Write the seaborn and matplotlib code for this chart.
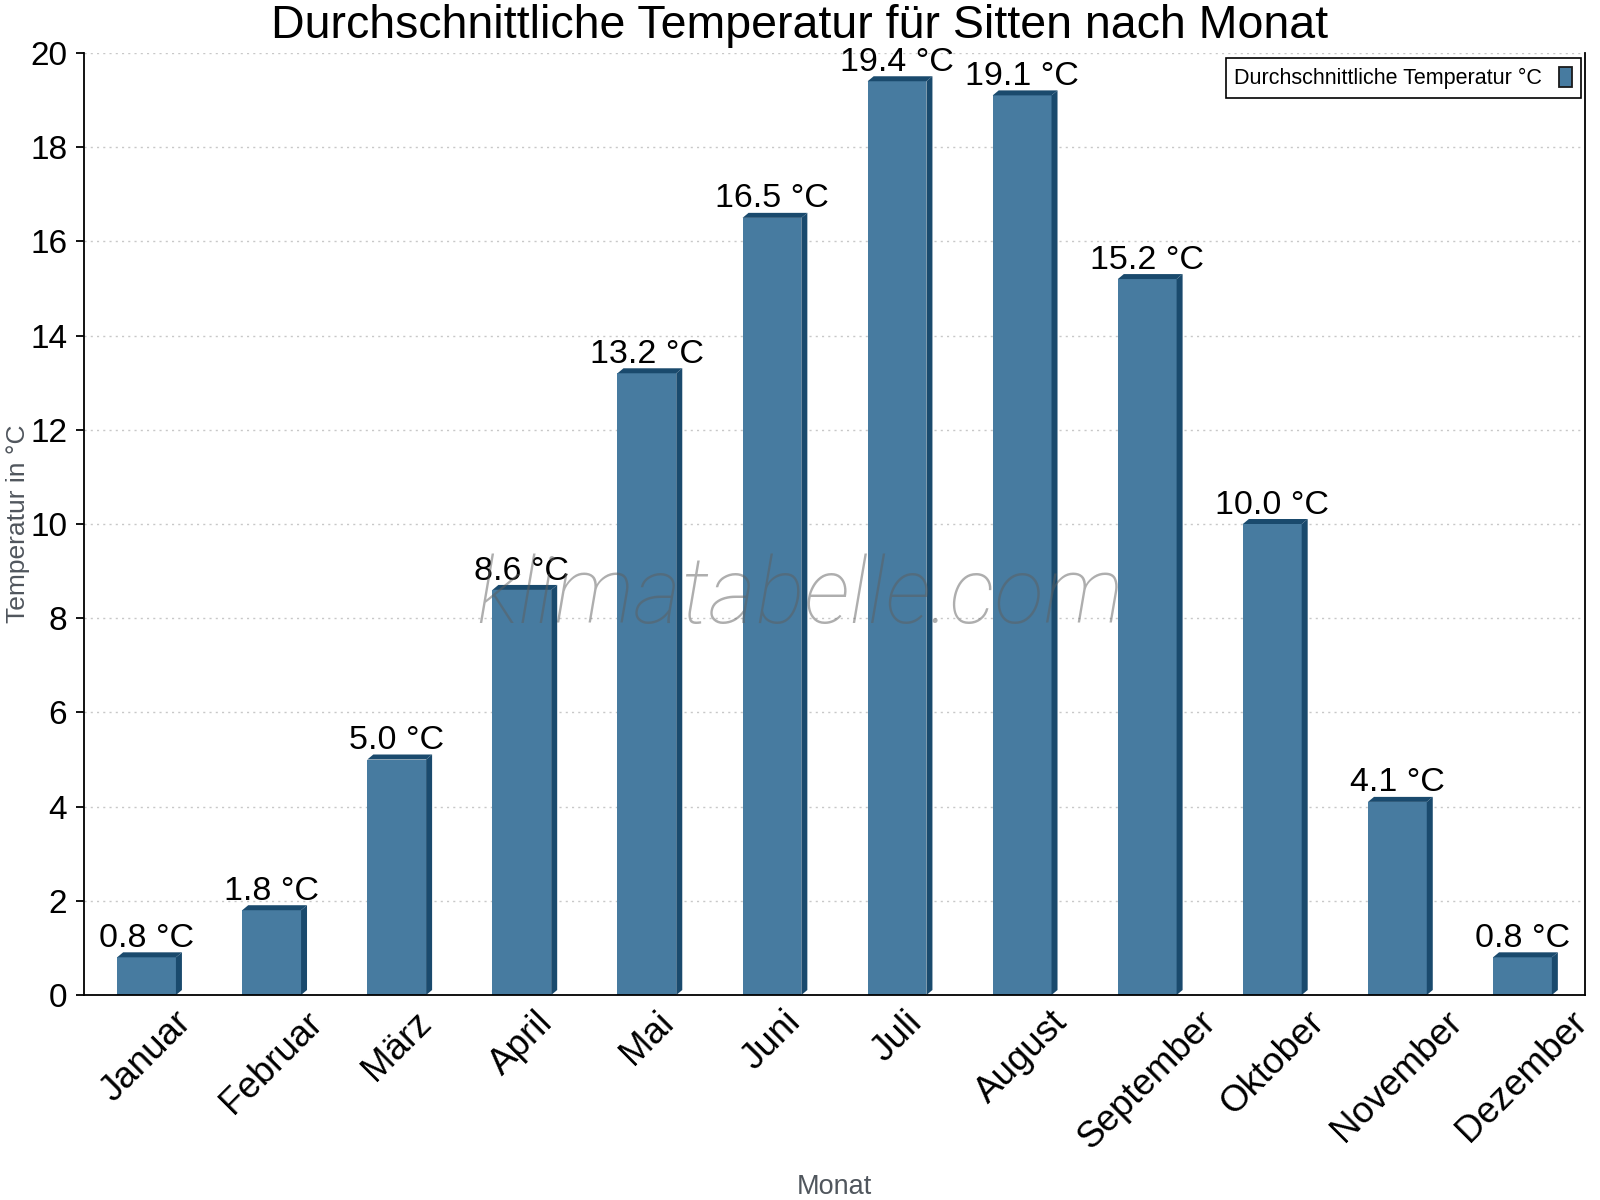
import numpy as np
import matplotlib
matplotlib.use("Agg")
import matplotlib.pyplot as plt
from matplotlib.patches import Polygon, Patch
import seaborn as sns

# Daten
monate = ["Januar", "Februar", "März", "April", "Mai", "Juni", "Juli",
          "August", "September", "Oktober", "November", "Dezember"]
temperaturen = [0.8, 1.8, 5.0, 8.6, 13.2, 16.5, 19.4, 19.1, 15.2, 10.0, 4.1, 0.8]
y_ticks = [0, 2, 4, 6, 8, 10, 12, 14, 16, 18, 20]

titel = "Durchschnittliche Temperatur für Sitten nach Monat"
legende = "Durchschnittliche Temperatur °C"

front = "#477ba0"
dunkel = "#1a4a6d"
grau = "#50565d"

sns.set_style("white")
plt.rcParams["font.family"] = ["Liberation Sans", "DejaVu Sans"]

fig = plt.figure(figsize=(16, 12), dpi=100)
ax = fig.add_axes([84 / 1600, 1 - 995 / 1200, 1501 / 1600, 942 / 1200])

sns.barplot(x=monate, y=temperaturen, color=front, saturation=1,
            width=0.47, ax=ax, zorder=2, edgecolor="none", linewidth=0)

ax.set_xlim(-0.5, 11.5)
ax.set_ylim(0, 20)

# 3D-Effekt: Tiefe in Pixeln -> Datenkoordinaten
inv = ax.transData.inverted()
p0 = ax.transData.transform((0, 0))
ddx, ddy = inv.transform(p0 + np.array([6, 5]))
for p in list(ax.patches):
    x, w, h = p.get_x(), p.get_width(), p.get_height()
    seite = Polygon([(x + w, 0), (x + w + ddx, ddy), (x + w + ddx, h + ddy), (x + w, h)],
                    closed=True, facecolor=dunkel, edgecolor="none", zorder=2)
    oben = Polygon([(x, h), (x + ddx, h + ddy), (x + w + ddx, h + ddy), (x + w, h)],
                   closed=True, facecolor=dunkel, edgecolor="none", zorder=2)
    ax.add_patch(seite)
    ax.add_patch(oben)

for i, t in enumerate(temperaturen):
    ax.annotate(f"{t:.1f} °C", (i, t), xytext=(0, 7.5), textcoords="offset points",
                ha="center", va="baseline", fontsize=24.5, color="black", zorder=5)

# Achsen
ax.set_yticks(y_ticks)
ax.set_yticklabels([str(v) for v in y_ticks], fontsize=24, color="black")
ax.set_xticks(range(len(monate)))
ax.set_xticklabels(monate, rotation=45, ha="center", fontsize=26.5, color="black")
ax.set_xticks(np.arange(-0.5, len(monate), 1), minor=True)
ax.tick_params(axis="x", which="major", length=0, pad=7)
ax.tick_params(axis="x", which="minor", length=6, width=1.3, direction="out", color="black")
ax.tick_params(axis="y", length=6, width=1.3, direction="out", color="black", pad=6, left=True)

ax.grid(axis="y", color="#c8c8c8", linestyle=(0, (1.5, 3)), linewidth=1)
ax.set_axisbelow(True)

for s in ["left", "bottom", "right"]:
    ax.spines[s].set_visible(True)
    ax.spines[s].set_color("black")
    ax.spines[s].set_linewidth(1.3)
ax.spines["top"].set_visible(False)

ax.set_ylabel("Temperatur in °C", fontsize=19, color=grau)
ax.yaxis.set_label_coords(-0.036, 0.5)
ax.set_xlabel("Monat", fontsize=19.5, color=grau, va="top")
ax.xaxis.set_label_coords(0.5, -0.19)

fig.text(0.5, 1 - 38 / 1200, titel, ha="center", va="baseline", fontsize=33.5, color="black")

# Legende
handle = Patch(facecolor=front, edgecolor="#1a1a1a", linewidth=1.3, label=legende)
leg = ax.legend(handles=[handle], loc="upper right", bbox_to_anchor=(0.9973, 0.9947),
                borderaxespad=0, markerfirst=False, fancybox=False, framealpha=1,
                edgecolor="black", fontsize=15.5, handlelength=0.6, handleheight=1.1,
                borderpad=0.4, handletextpad=0.8)
leg.get_frame().set_linewidth(1.2)
for txt in leg.get_texts():
    txt.set_color("black")

# Wasserzeichen
fig.text(800 / 1600, 1 - 598 / 1200, "klimatabelle.com", ha="center", va="center",
         fontsize=66, style="italic", family=["Roboto", "Liberation Sans"], weight="light",
         color="#5e5e5e", alpha=0.5, zorder=10)

fig.savefig("out.png", dpi=100)
